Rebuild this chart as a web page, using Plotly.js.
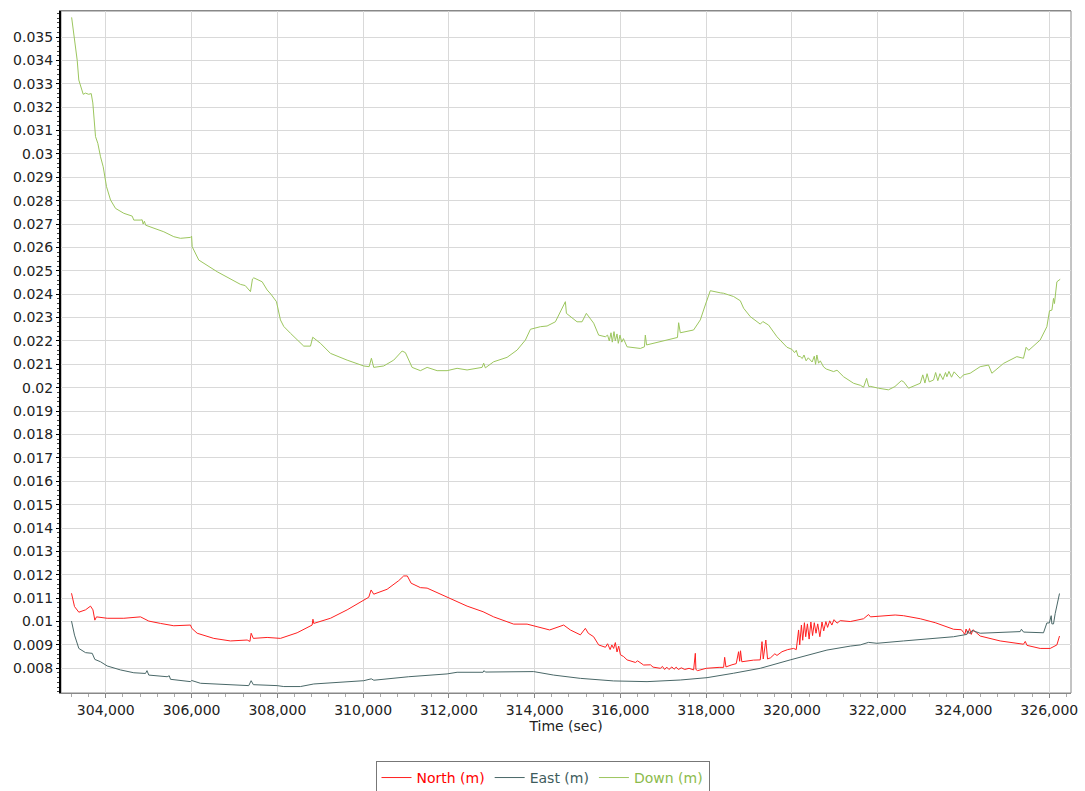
<!DOCTYPE html>
<html>
<head>
<meta charset="utf-8">
<script src="https://cdn.plot.ly/plotly-3.0.1.min.js"></script>
<style>html,body{margin:0;padding:0;background:#fff;overflow:hidden;}#chart{width:1085px;height:791px;}</style>
</head>
<body>
<div id="chart"></div>
<script>
const downTime = [303203,303270,303333,303370,303473,303527,303600,303660,303697,303760,303814,303876,303939,304016,304110,304226,304420,304615,304653,304800,304848,304870,304900,304930,305119,305352,305585,305741,305974,306000,306014,306051,306168,306597,307140,307250,307373,307420,307450,307646,307762,307850,307979,308072,308150,308305,308616,308772,308825,309005,309238,309627,310014,310140,310193,310247,310480,310713,310909,310986,311142,311336,311492,311725,311958,312191,312424,312774,312811,312850,313044,313357,313590,313784,313901,314133,314289,314483,314638,314716,314740,314832,314988,315105,315205,315376,315492,315648,315700,315740,315780,315810,315850,315880,315920,315950,315990,316030,316070,316154,316464,316560,316580,316610,316930,317240,317330,317357,317396,317706,317862,317979,318095,318328,318406,318522,318639,318795,318872,319028,319261,319320,319454,319650,319883,320000,320060,320100,320140,320193,320240,320280,320330,320380,320426,320470,320520,320550,320580,320620,320660,320737,320800,320970,321050,321203,321436,321600,321669,321740,321790,321823,322016,322250,322400,322550,322601,322718,322991,323050,323100,323150,323200,323301,323350,323400,323450,323520,323580,323612,323660,323720,323780,323922,324000,324155,324388,324583,324661,324932,325243,325398,325460,325520,325787,325943,326005,326061,326098,326120,326177,326254];
const downVal = [0.03584,0.0350,0.0340,0.03316,0.03255,0.0326,0.03255,0.03258,0.03218,0.03074,0.03045,0.02988,0.02945,0.0286,0.02803,0.02767,0.02746,0.02734,0.02717,0.02717,0.02718,0.02700,0.02712,0.02695,0.02684,0.02667,0.02646,0.02639,0.02643,0.02648,0.02603,0.02589,0.02546,0.02496,0.02442,0.02437,0.02411,0.02465,0.02470,0.02453,0.02418,0.02400,0.02368,0.0229,0.02262,0.02233,0.02178,0.02178,0.02216,0.0219,0.02147,0.02118,0.02093,0.02090,0.02126,0.02087,0.02093,0.02118,0.02157,0.0215,0.02087,0.02073,0.02087,0.02073,0.02073,0.02083,0.02076,0.02087,0.02105,0.02085,0.02111,0.0213,0.02161,0.02204,0.0225,0.02261,0.02264,0.02282,0.0234,0.02368,0.02318,0.02304,0.02282,0.02282,0.02318,0.02276,0.02225,0.02218,0.02225,0.02200,0.02235,0.02195,0.02240,0.02200,0.02230,0.02190,0.02225,0.02195,0.02210,0.02175,0.02168,0.02175,0.02225,0.02183,0.02197,0.02211,0.02215,0.02278,0.02235,0.02247,0.0229,0.02354,0.02415,0.02406,0.02404,0.02397,0.0239,0.02372,0.0234,0.02304,0.02272,0.02283,0.02268,0.02218,0.02173,0.02164,0.02150,0.02160,0.02135,0.02133,0.02125,0.02140,0.02115,0.02128,0.02118,0.02110,0.02135,0.02100,0.02140,0.02105,0.02115,0.02089,0.02080,0.02069,0.02075,0.02047,0.02019,0.02010,0.02002,0.02040,0.02005,0.02006,0.01998,0.01991,0.02005,0.0203,0.02026,0.01998,0.02019,0.02055,0.02020,0.02060,0.02025,0.02033,0.02065,0.02030,0.02060,0.02035,0.02065,0.02047,0.02070,0.02045,0.02068,0.0204,0.02055,0.02062,0.0209,0.02097,0.02062,0.02104,0.02133,0.02126,0.02173,0.02160,0.02204,0.02261,0.02329,0.02332,0.02382,0.02360,0.02453,0.02464];

const northTime = [303200,303270,303371,303527,303643,303700,303744,303783,304033,304420,304809,305002,305275,305585,305974,306005,306130,306517,306907,307296,307360,307389,307440,307762,308072,308461,308811,308830,308849,309238,309627,309898,310131,310186,310247,310559,310830,310946,311030,311119,311336,311492,311958,312424,312797,313044,313511,313823,314056,314350,314676,314832,315066,315182,315250,315375,315492,315650,315700,315760,315800,315841,315881,315920,315960,316000,316075,316154,316350,316400,316541,316700,316760,316930,316980,317030,317080,317130,317200,317250,317300,317350,317420,317500,317600,317706,317746,317760,317800,318000,318300,318406,318430,318460,318600,318700,318755,318780,318800,318830,319100,319260,319301,319330,319390,319430,319500,319600,319650,319767,319900,320037,320100,320154,320180,320220,320250,320290,320320,320360,320400,320440,320480,320520,320560,320600,320650,320700,320740,320790,320830,320880,320930,320980,321050,321126,321359,321592,321669,321785,321830,322406,322600,322991,323341,323767,323950,324000,324030,324060,324100,324140,324180,324220,324389,324855,325398,325440,325480,325787,326020,326177,326238];
const northVal = [0.01121,0.01064,0.0104,0.0105,0.01066,0.01050,0.01006,0.0102,0.01014,0.01014,0.0102,0.01002,0.00992,0.00982,0.00985,0.00971,0.0095,0.00928,0.00917,0.00921,0.00915,0.0095,0.00928,0.00932,0.00928,0.00952,0.00985,0.0101,0.00992,0.01014,0.0105,0.01081,0.01104,0.01135,0.01117,0.01138,0.01175,0.01195,0.01195,0.01164,0.01145,0.01143,0.01106,0.01066,0.01042,0.0102,0.00989,0.00989,0.00978,0.00964,0.00985,0.00964,0.00943,0.00971,0.00950,0.00935,0.00900,0.00890,0.00905,0.00880,0.00900,0.00885,0.00910,0.00870,0.00895,0.00858,0.00850,0.00836,0.00825,0.00832,0.00814,0.00815,0.00805,0.00800,0.00808,0.00795,0.00805,0.00795,0.00806,0.00796,0.00805,0.00795,0.00802,0.00795,0.00800,0.00793,0.00864,0.00795,0.00790,0.00800,0.00804,0.00804,0.00847,0.00806,0.00815,0.00820,0.00871,0.00830,0.00875,0.00828,0.00835,0.00836,0.00914,0.00840,0.00921,0.00840,0.00845,0.00862,0.00855,0.00871,0.00880,0.00885,0.00880,0.00964,0.00900,0.00985,0.00920,0.00995,0.00935,0.00990,0.00925,0.00998,0.00940,0.00995,0.00950,0.00990,0.00935,0.00998,0.00960,0.01000,0.00975,0.01003,0.00985,0.01008,0.00993,0.01004,0.01000,0.01010,0.01012,0.0103,0.01020,0.01028,0.01025,0.01012,0.00995,0.00967,0.00965,0.00953,0.00945,0.00968,0.00948,0.00970,0.00945,0.00965,0.00938,0.00917,0.00903,0.00915,0.00898,0.00885,0.00885,0.009,0.00938];

const eastTime = [303200,303270,303371,303527,303683,303744,303876,304033,304343,304653,304925,304960,305002,305430,305480,305508,305974,306000,306207,306984,307333,307389,307440,307995,308149,308538,308849,310014,310190,310250,311063,311958,312191,312797,312820,312850,313861,313977,314443,315066,315842,316620,317396,318019,318639,319261,319960,320504,320815,321359,321592,321785,321981,322601,323223,323767,324078,324100,324150,324200,324389,325321,325350,325400,325865,325943,326000,326044,326060,326098,326138,326191,326238];
const eastVal = [0.01002,0.00942,0.00885,0.00867,0.00864,0.00838,0.00828,0.0081,0.00793,0.00781,0.00778,0.00790,0.00771,0.00764,0.00768,0.00753,0.00743,0.00748,0.00736,0.00729,0.00726,0.00747,0.00730,0.00726,0.00722,0.00722,0.00733,0.00747,0.00755,0.00749,0.00764,0.00776,0.00783,0.00783,0.00790,0.00784,0.00786,0.00786,0.00771,0.00757,0.00746,0.00743,0.0075,0.0076,0.00779,0.008,0.00836,0.00864,0.00878,0.00895,0.009,0.00911,0.00907,0.00917,0.00928,0.00935,0.00945,0.00960,0.00948,0.00962,0.0095,0.00957,0.00967,0.00955,0.00952,0.00994,0.00994,0.01025,0.00990,0.00990,0.01035,0.01085,0.0112];

const seriesNames = ['North (m)','East (m)','Down (m)'];
const seriesColors = ['#ff2020','#4a6868','#9cc65e'];
const legendColors = ['#ff0000','#3e5c5c','#8cbb4c'];
const xTitle = 'Time (sec)';
const xTicks = [304000,306000,308000,310000,312000,314000,316000,318000,320000,322000,324000,326000];
const yTicks = [0.008,0.009,0.010,0.011,0.012,0.013,0.014,0.015,0.016,0.017,0.018,0.019,0.020,0.021,0.022,0.023,0.024,0.025,0.026,0.027,0.028,0.029,0.030,0.031,0.032,0.033,0.034,0.035];

const font = 'DejaVu Sans, Verdana, sans-serif';
function mk(t, v, i){
  return {x:t, y:v, type:'scatter', mode:'lines',
    name:'<span style="color:'+legendColors[i]+'">'+seriesNames[i]+'</span>',
    line:{color:seriesColors[i], width:1}, hoverinfo:'x+y'};
}
const data = [mk(northTime,northVal,0), mk(eastTime,eastVal,1), mk(downTime,downVal,2)];

const layout = {
  width:1085, height:791,
  margin:{l:61, r:14, t:11, b:98, autoexpand:false},
  paper_bgcolor:'#ffffff', plot_bgcolor:'#ffffff',
  font:{family:font, size:14, color:'#222'},
  showlegend:true,
  legend:{orientation:'h', x:0.5, xanchor:'center', xref:'container', yref:'container', y:0.038, yanchor:'top',
    bordercolor:'#777', borderwidth:1, bgcolor:'#fff', font:{family:font, size:14},
    itemwidth:30, tracegroupgap:0},
  xaxis:{range:[302955,326506], tickvals:xTicks,
    tickformat:',d', showgrid:true, gridcolor:'#d9d9d9', gridwidth:1, zeroline:false,
    showline:true, linecolor:'#888', linewidth:1, mirror:true,
    ticks:'outside', ticklen:4, tickcolor:'#888',
    minor:{dtick:400, ticks:'outside', ticklen:3, tickcolor:'#aaa', showgrid:false},
    tickfont:{family:font, size:14, color:'#222'},
    title:{text:xTitle, font:{family:font, size:14, color:'#222'}, standoff:2}, automargin:false},
  yaxis:{range:[0.006944,0.036112], tickvals:yTicks, tickformat:'.3~f',
    showgrid:true, gridcolor:'#d9d9d9', gridwidth:1, zeroline:false,
    showline:true, linecolor:'#000', linewidth:2, mirror:false,
    ticks:'outside', ticklen:3, tickcolor:'#000',
    minor:{dtick:0.0002, ticks:'outside', ticklen:2, tickcolor:'#444', showgrid:false},
    tickfont:{family:font, size:14, color:'#222'}, automargin:false},
  shapes:[{type:'rect', xref:'paper', yref:'paper', x0:0, x1:1, y0:0, y1:1, line:{color:'#888', width:1}, layer:'below'}]
};
Plotly.newPlot('chart', data, layout, {displayModeBar:false, staticPlot:true});
</script>
</body>
</html>
